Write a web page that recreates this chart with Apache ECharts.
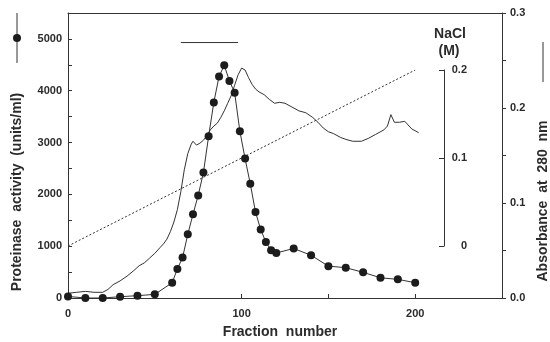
<!DOCTYPE html>
<html>
<head>
<meta charset="utf-8">
<script src="https://cdn.jsdelivr.net/npm/echarts@6/dist/echarts.min.js"></script>
<style>
  html, body { margin: 0; padding: 0; background: #fff; }
  #chart { width: 550px; height: 342px; }
</style>
</head>
<body>
<div id="chart"></div>
<script>
// Fractions assayed for proteinase activity (units/ml)
const activityFractions = [0, 10, 20, 30, 40, 50, 60, 63, 66, 69, 72, 75, 78, 81, 84, 87, 90, 93, 96, 99,
  102, 105, 108, 111, 114, 117, 120, 130, 140, 150, 160, 170, 180, 190, 200];
const activityValues = [30, 0, 0, 25, 45, 70, 295, 560, 780, 1230, 1615, 1980, 2420, 3120, 3775, 4275, 4490, 4190, 3960, 3220,
  2690, 2205, 1660, 1320, 1080, 920, 870, 955, 825, 615, 585, 495, 390, 360, 295];

// Absorbance at 280 nm trace
const absFractions = [0, 5, 10, 15, 20, 23, 26, 30, 34, 38, 41, 44, 47, 50, 53, 55, 57, 59, 61, 63,
  65, 67, 69, 71, 72, 74, 76, 78, 80, 82, 84, 86, 88, 90, 92, 94, 96, 98, 100, 102,
  104, 106, 108, 110, 113, 116, 119, 122, 125, 129, 133, 137, 141, 144, 147, 150, 153, 157, 160, 164,
  169, 173, 177, 182, 184, 186, 188, 191, 194, 198, 202];
const absValues = [0.005, 0.006, 0.007, 0.006, 0.006, 0.009, 0.014, 0.018, 0.023, 0.029, 0.034, 0.037, 0.042, 0.047, 0.053, 0.057, 0.062, 0.070, 0.080, 0.093,
  0.112, 0.135, 0.152, 0.162, 0.165, 0.161, 0.163, 0.166, 0.171, 0.177, 0.181, 0.184, 0.190, 0.197, 0.205, 0.213, 0.224, 0.235, 0.242, 0.240,
  0.232, 0.225, 0.220, 0.217, 0.214, 0.209, 0.205, 0.206, 0.205, 0.201, 0.197, 0.195, 0.190, 0.185, 0.179, 0.175, 0.173, 0.169, 0.167, 0.165,
  0.165, 0.168, 0.172, 0.177, 0.181, 0.193, 0.185, 0.185, 0.186, 0.178, 0.174];

// Linear NaCl gradient (M)
const naclFractions = [0, 200];
const naclValues = [0, 0.2];

// Pooled fractions bar
const poolFractions = [65, 98];
const poolLevel = 4930;

const zip = (xs, ys) => xs.map((x, i) => [x, ys[i]]);

const FONT = '"Liberation Sans", Arial, sans-serif';
const INK = '#2b2b2b';
const LINE = '#333';

const chart = echarts.init(document.getElementById('chart'), null, { renderer: 'canvas' });

const tickLabel = { color: INK, fontFamily: FONT, fontSize: 11, fontWeight: 'bold' };
const axisLine = { show: true, onZero: false, lineStyle: { color: LINE, width: 1 } };

chart.setOption({
  animation: false,
  backgroundColor: '#fff',
  grid: [
    { left: 68, right: 48, top: 13, bottom: 44 },
    { left: 68, right: 48, top: 70, bottom: 96 }
  ],
  xAxis: [
    {
      gridIndex: 0, type: 'value', min: 0, max: 250, interval: 50,
      axisLine: axisLine,
      axisTick: { show: true, inside: true, length: 4, lineStyle: { color: LINE } },
      splitLine: { show: false },
      axisLabel: Object.assign({}, tickLabel, {
        margin: 10,
        formatter: v => (v % 100 === 0 && v <= 200) ? String(v) : ''
      })
    },
    {
      gridIndex: 0, type: 'value', position: 'top', min: 0, max: 250,
      axisLine: axisLine,
      axisTick: { show: false }, axisLabel: { show: false }, splitLine: { show: false }
    },
    {
      gridIndex: 1, type: 'value', min: 0, max: 250, show: false
    }
  ],
  yAxis: [
    {
      gridIndex: 0, type: 'value', min: 0, max: 5500, interval: 500,
      axisLine: axisLine,
      axisTick: { show: true, inside: true, length: 4, lineStyle: { color: LINE } },
      splitLine: { show: false },
      axisLabel: Object.assign({}, tickLabel, {
        margin: 6,
        formatter: v => (v % 1000 === 0) ? String(v) : ''
      })
    },
    {
      gridIndex: 0, type: 'value', position: 'right', min: 0, max: 0.3, interval: 0.05,
      axisLine: axisLine,
      axisTick: { show: true, inside: false, length: 4, lineStyle: { color: LINE } },
      splitLine: { show: false },
      axisLabel: Object.assign({}, tickLabel, {
        margin: 8,
        formatter: v => (Math.abs(v * 10 - Math.round(v * 10)) < 1e-6) ? v.toFixed(1) : ''
      })
    },
    {
      gridIndex: 1, type: 'value', position: 'right', offset: -58, min: 0, max: 0.2, interval: 0.1,
      axisLine: axisLine,
      axisTick: { show: true, inside: true, length: 5, lineStyle: { color: LINE } },
      splitLine: { show: false },
      axisLabel: Object.assign({}, tickLabel, {
        margin: 23, align: 'right',
        formatter: v => v === 0 ? '0' : v.toFixed(1)
      })
    }
  ],
  series: [
    {
      name: 'Absorbance', type: 'line', xAxisIndex: 0, yAxisIndex: 1,
      data: zip(absFractions, absValues),
      showSymbol: false, symbol: 'none',
      lineStyle: { color: LINE, width: 1 }, z: 2
    },
    {
      name: 'NaCl', type: 'line', xAxisIndex: 2, yAxisIndex: 2,
      data: zip(naclFractions, naclValues),
      symbol: 'none',
      lineStyle: { color: LINE, width: 1, type: [2, 2] }, z: 1
    },
    {
      name: 'Proteinase', type: 'line', xAxisIndex: 0, yAxisIndex: 0,
      data: zip(activityFractions, activityValues),
      symbol: 'circle', symbolSize: 8,
      itemStyle: { color: '#1c1c1c', borderWidth: 0 },
      lineStyle: { color: LINE, width: 1 }, z: 3
    },
    {
      name: 'Pool', type: 'line', xAxisIndex: 0, yAxisIndex: 0,
      data: poolFractions.map(f => [f, poolLevel]),
      symbol: 'none',
      lineStyle: { color: LINE, width: 1 }, z: 3
    }
  ],
  graphic: [
    // left axis key: line with filled dot
    { type: 'line', shape: { x1: 17, y1: 13, x2: 17, y2: 63 }, style: { stroke: LINE, lineWidth: 1 } },
    { type: 'circle', shape: { cx: 17, cy: 38, r: 4 }, style: { fill: '#1c1c1c' } },
    // right axis key: plain line
    { type: 'line', shape: { x1: 543, y1: 42, x2: 543, y2: 82 }, style: { stroke: LINE, lineWidth: 1 } },
    {
      type: 'text', x: 17, y: 192, rotation: Math.PI / 2,
      style: { text: 'Proteinase  activity  (units/ml)', fill: INK, font: 'bold 14px ' + FONT, textAlign: 'center', textVerticalAlign: 'middle' }
    },
    {
      type: 'text', x: 543, y: 201, rotation: Math.PI / 2,
      style: { text: 'Absorbance  at  280  nm', fill: INK, font: 'bold 14px ' + FONT, textAlign: 'center', textVerticalAlign: 'middle' }
    },
    {
      type: 'text', x: 280, y: 332,
      style: { text: 'Fraction  number', fill: INK, font: 'bold 14px ' + FONT, textAlign: 'center', textVerticalAlign: 'middle' }
    },
    {
      type: 'text', x: 450, y: 34,
      style: { text: 'NaCl', fill: INK, font: 'bold 14px ' + FONT, textAlign: 'center', textVerticalAlign: 'middle' }
    },
    {
      type: 'text', x: 449, y: 51,
      style: { text: '(M)', fill: INK, font: 'bold 14px ' + FONT, textAlign: 'center', textVerticalAlign: 'middle' }
    }
  ]
});
</script>
</body>
</html>
